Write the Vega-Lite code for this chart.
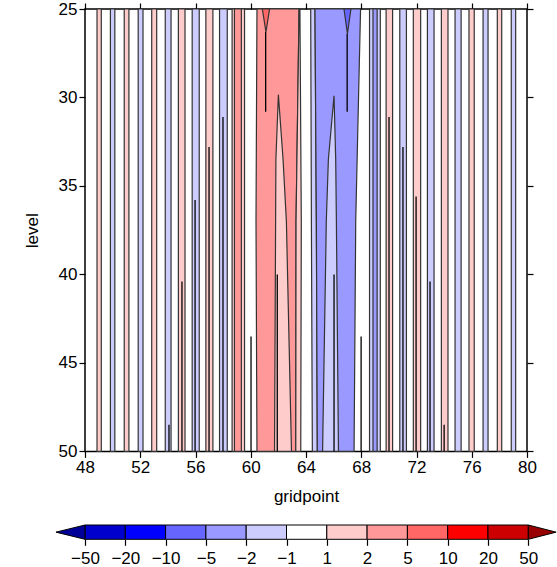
{
  "$schema": "https://vega.github.io/schema/vega-lite/v6.json",
  "padding": {"left": 22, "top": -1, "right": 0, "bottom": 0},
  "background": "white",
  "config": {
    "font": "Liberation Sans",
    "axis": {"labelColor": "black", "titleColor": "black", "tickColor": "black", "grid": false, "domain": false, "labelFontSize": 17, "titleFontSize": 17, "titleFontWeight": "normal", "labelFlush": false, "labelOverlap": false, "tickSize": 6, "tickWidth": 1.2}
  },
  "datasets": {
    "base": [
      {"p": "s49", "lev": 25, "a": 48.87, "b": 49.18, "c": "p1"}, {"p": "s49", "lev": 50, "a": 48.87, "b": 49.18, "c": "p1"},
      {"p": "s50", "lev": 25, "a": 49.84, "b": 50.16, "c": "m1"}, {"p": "s50", "lev": 50, "a": 49.84, "b": 50.16, "c": "m1"},
      {"p": "s51", "lev": 25, "a": 50.84, "b": 51.18, "c": "p1"}, {"p": "s51", "lev": 50, "a": 50.84, "b": 51.18, "c": "p1"},
      {"p": "s52", "lev": 25, "a": 51.85, "b": 52.2, "c": "m1"}, {"p": "s52", "lev": 50, "a": 51.85, "b": 52.2, "c": "m1"},
      {"p": "s53", "lev": 25, "a": 52.83, "b": 53.19, "c": "p1"}, {"p": "s53", "lev": 50, "a": 52.83, "b": 53.19, "c": "p1"},
      {"p": "s54", "lev": 25, "a": 53.81, "b": 54.23, "c": "m1"}, {"p": "s54", "lev": 50, "a": 53.81, "b": 54.23, "c": "m1"},
      {"p": "s55", "lev": 25, "a": 54.76, "b": 55.24, "c": "p1"}, {"p": "s55", "lev": 50, "a": 54.76, "b": 55.24, "c": "p1"},
      {"p": "s56", "lev": 25, "a": 55.76, "b": 56.27, "c": "m1"}, {"p": "s56", "lev": 50, "a": 55.76, "b": 56.27, "c": "m1"},
      {"p": "s57", "lev": 25, "a": 56.75, "b": 57.26, "c": "p1"}, {"p": "s57", "lev": 50, "a": 56.75, "b": 57.26, "c": "p1"},
      {"p": "s58", "lev": 25, "a": 57.74, "b": 58.3, "c": "m1"}, {"p": "s58", "lev": 50, "a": 57.74, "b": 58.3, "c": "m1"},
      {"p": "s59", "lev": 25, "a": 58.65, "b": 59.55, "c": "p1"}, {"p": "s59", "lev": 50, "a": 58.65, "b": 59.55, "c": "p1"},
      {"p": "rb", "lev": 25, "a": 60.45, "b": 63.5, "c": "p2"}, {"p": "rb", "lev": 37, "a": 60.38, "b": 63.28, "c": "p2"}, {"p": "rb", "lev": 50, "a": 60.45, "b": 63.26, "c": "p2"},
      {"p": "rf", "lev": 25, "a": 63.5, "b": 63.56, "c": "p1"}, {"p": "rf", "lev": 37, "a": 63.28, "b": 63.66, "c": "p1"}, {"p": "rf", "lev": 50, "a": 63.26, "b": 63.62, "c": "p1"},
      {"p": "bf", "lev": 25, "a": 64.34, "b": 64.65, "c": "m1"}, {"p": "bf", "lev": 37, "a": 64.39, "b": 64.75, "c": "m1"}, {"p": "bf", "lev": 50, "a": 64.46, "b": 64.82, "c": "m1"},
      {"p": "bb", "lev": 25, "a": 64.65, "b": 67.95, "c": "m2"}, {"p": "bb", "lev": 37, "a": 64.75, "b": 67.6, "c": "m2"}, {"p": "bb", "lev": 50, "a": 64.82, "b": 67.48, "c": "m2"},
      {"p": "s69", "lev": 25, "a": 68.6, "b": 69.38, "c": "m1"}, {"p": "s69", "lev": 50, "a": 68.6, "b": 69.38, "c": "m1"},
      {"p": "s70", "lev": 25, "a": 69.8, "b": 70.27, "c": "p1"}, {"p": "s70", "lev": 50, "a": 69.8, "b": 70.27, "c": "p1"},
      {"p": "s71", "lev": 25, "a": 70.79, "b": 71.27, "c": "m1"}, {"p": "s71", "lev": 50, "a": 70.79, "b": 71.27, "c": "m1"},
      {"p": "s72", "lev": 25, "a": 71.77, "b": 72.3, "c": "p1"}, {"p": "s72", "lev": 50, "a": 71.77, "b": 72.3, "c": "p1"},
      {"p": "s73", "lev": 25, "a": 72.79, "b": 73.27, "c": "m1"}, {"p": "s73", "lev": 50, "a": 72.79, "b": 73.27, "c": "m1"},
      {"p": "s74", "lev": 25, "a": 73.8, "b": 74.28, "c": "p1"}, {"p": "s74", "lev": 50, "a": 73.8, "b": 74.28, "c": "p1"},
      {"p": "s75", "lev": 25, "a": 74.79, "b": 75.23, "c": "m1"}, {"p": "s75", "lev": 50, "a": 74.79, "b": 75.23, "c": "m1"},
      {"p": "s76", "lev": 25, "a": 75.8, "b": 76.18, "c": "p1"}, {"p": "s76", "lev": 50, "a": 75.8, "b": 76.18, "c": "p1"},
      {"p": "s77", "lev": 25, "a": 76.82, "b": 77.18, "c": "m1"}, {"p": "s77", "lev": 50, "a": 76.82, "b": 77.18, "c": "m1"},
      {"p": "s78", "lev": 25, "a": 77.85, "b": 78.17, "c": "p1"}, {"p": "s78", "lev": 50, "a": 77.85, "b": 78.17, "c": "p1"},
      {"p": "s79", "lev": 25, "a": 78.86, "b": 79.18, "c": "m1"}, {"p": "s79", "lev": 50, "a": 78.86, "b": 79.18, "c": "m1"}
    ],
    "over": [
      {"p": "c59", "lev": 25, "a": 58.82, "b": 59.32, "c": "p2"}, {"p": "c59", "lev": 50, "a": 58.82, "b": 59.32, "c": "p2"},
      {"p": "c69", "lev": 25, "a": 68.85, "b": 69.15, "c": "m2"}, {"p": "c69", "lev": 50, "a": 68.85, "b": 69.15, "c": "m2"},
      {"p": "rw", "lev": 29.84, "a": 62.0, "b": 62.0, "c": "p1"}, {"p": "rw", "lev": 33.5, "a": 61.82, "b": 62.34, "c": "p1"}, {"p": "rw", "lev": 37, "a": 61.8, "b": 62.58, "c": "p1"}, {"p": "rw", "lev": 50, "a": 61.72, "b": 62.95, "c": "p1"},
      {"p": "bw", "lev": 29.9, "a": 66.03, "b": 66.03, "c": "m1"}, {"p": "bw", "lev": 33.5, "a": 65.62, "b": 66.15, "c": "m1"}, {"p": "bw", "lev": 37, "a": 65.47, "b": 66.2, "c": "m1"}, {"p": "bw", "lev": 50, "a": 65.2, "b": 66.35, "c": "m1"},
      {"p": "rt", "lev": 25, "a": 60.84, "b": 61.36, "c": "p3"}, {"p": "rt", "lev": 26.3, "a": 61.1, "b": 61.1, "c": "p3"},
      {"p": "bt", "lev": 25, "a": 66.75, "b": 67.25, "c": "m3"}, {"p": "bt", "lev": 26.4, "a": 67.0, "b": 67.0, "c": "m3"}
    ],
    "spikes": [
      {"g": 54.08, "l0": 48.5, "l1": 50}, {"g": 55.02, "l0": 40.4, "l1": 50}, {"g": 55.97, "l0": 35.8, "l1": 50},
      {"g": 56.98, "l0": 32.8, "l1": 50}, {"g": 57.99, "l0": 31.1, "l1": 50}, {"g": 60.02, "l0": 43.5, "l1": 50},
      {"g": 61.92, "l0": 40.0, "l1": 50}, {"g": 66.03, "l0": 40.0, "l1": 50}, {"g": 67.99, "l0": 43.5, "l1": 50},
      {"g": 70.01, "l0": 31.1, "l1": 50}, {"g": 71.02, "l0": 32.8, "l1": 50}, {"g": 71.97, "l0": 35.6, "l1": 50},
      {"g": 72.98, "l0": 40.4, "l1": 50}, {"g": 74.0, "l0": 48.5, "l1": 50},
      {"g": 61.08, "l0": 26.3, "l1": 30.8}, {"g": 66.98, "l0": 26.4, "l1": 30.8}
    ],
    "cbox": [
      {"i0": 0, "i1": 1, "c": "m5"}, {"i0": 1, "i1": 2, "c": "m4"}, {"i0": 2, "i1": 3, "c": "m3"},
      {"i0": 3, "i1": 4, "c": "m2"}, {"i0": 4, "i1": 5, "c": "m1"}, {"i0": 5, "i1": 6, "c": "z"},
      {"i0": 6, "i1": 7, "c": "p1"}, {"i0": 7, "i1": 8, "c": "p2"}, {"i0": 8, "i1": 9, "c": "p3"},
      {"i0": 9, "i1": 10, "c": "p4"}, {"i0": 10, "i1": 11, "c": "p5"}
    ],
    "ctri": [
      {"side": "L", "t": -0.72, "y0": 0.5, "y1": 0.5, "c": "m6"}, {"side": "L", "t": 0, "y0": 0, "y1": 1, "c": "m6"},
      {"side": "R", "t": 11, "y0": 0, "y1": 1, "c": "p6"}, {"side": "R", "t": 11.69, "y0": 0.5, "y1": 0.5, "c": "p6"}
    ]
  },
  "spacing": 17,
  "vconcat": [
    {
      "width": 442,
      "height": 442.4,
      "view": {"stroke": "black", "strokeWidth": 1.5},
      "layer": [
        {
          "data": {"name": "base"},
          "mark": {"type": "area", "orient": "horizontal", "stroke": "#333333", "strokeWidth": 1.2, "opacity": 1},
          "encoding": {
            "y": {"field": "lev", "type": "quantitative", "scale": {"domain": [25, 50], "reverse": true, "nice": false, "zero": false},
                  "axis": {"orient": "left", "values": [25, 30, 35, 40, 45, 50], "labelPadding": 2, "title": "level", "titlePadding": 17}},
            "x": {"field": "a", "type": "quantitative", "stack": null, "scale": {"domain": [48, 80], "nice": false, "zero": false},
                  "axis": {"orient": "bottom", "values": [48, 52, 56, 60, 64, 68, 72, 76, 80], "labelPadding": 2, "title": "gridpoint", "titlePadding": 13}},
            "x2": {"field": "b"},
            "detail": {"field": "p"},
            "color": {"field": "c", "type": "nominal", "legend": null,
                      "scale": {"domain": ["m6", "m5", "m4", "m3", "m2", "m1", "z", "p1", "p2", "p3", "p4", "p5", "p6"],
                                "range": ["#000099", "#0000cc", "#0000ff", "#6666ff", "#9999ff", "#ccccff", "#ffffff", "#ffcccc", "#ff9999", "#ff6666", "#ff0000", "#cc0000", "#990000"]}}
          }
        },
        {
          "data": {"name": "over"},
          "mark": {"type": "area", "orient": "horizontal", "stroke": "#333333", "strokeWidth": 1.2, "opacity": 1},
          "encoding": {
            "y": {"field": "lev", "type": "quantitative", "axis": null},
            "x": {"field": "a", "type": "quantitative", "stack": null, "axis": null},
            "x2": {"field": "b"},
            "detail": {"field": "p"},
            "color": {"field": "c", "type": "nominal", "legend": null}
          }
        },
        {
          "data": {"name": "spikes"},
          "mark": {"type": "rule", "color": "black", "strokeWidth": 1.3},
          "encoding": {
            "x": {"field": "g", "type": "quantitative", "axis": {"orient": "top", "values": [48, 52, 56, 60, 64, 68, 72, 76, 80], "labels": false, "title": null}},
            "y": {"field": "l0", "type": "quantitative", "axis": {"orient": "right", "values": [25, 30, 35, 40, 45, 50], "labels": false, "title": null}},
            "y2": {"field": "l1"}
          }
        }
      ],
      "resolve": {"axis": {"x": "independent", "y": "independent"}}
    },
    {
      "width": 443.3,
      "height": 14.3,
      "view": {"stroke": null},
      "layer": [
        {
          "data": {"name": "cbox"},
          "mark": {"type": "rect", "stroke": "black", "strokeWidth": 1},
          "encoding": {
            "x": {"field": "i0", "type": "quantitative", "scale": {"domain": [0, 11], "nice": false, "zero": false},
                  "axis": {"values": [0, 1, 2, 3, 4, 5, 6, 7, 8, 9, 10, 11], "labelExpr": "['−50','−20','−10','−5','−2','−1','1','2','5','10','20','50'][datum.value]", "labelPadding": 5, "title": null}},
            "x2": {"field": "i1"},
            "color": {"field": "c", "type": "nominal", "legend": null,
                      "scale": {"domain": ["m6", "m5", "m4", "m3", "m2", "m1", "z", "p1", "p2", "p3", "p4", "p5", "p6"],
                                "range": ["#000099", "#0000cc", "#0000ff", "#6666ff", "#9999ff", "#ccccff", "#ffffff", "#ffcccc", "#ff9999", "#ff6666", "#ff0000", "#cc0000", "#990000"]}}
          }
        },
        {
          "data": {"name": "ctri"},
          "mark": {"type": "area", "orient": "vertical", "stroke": "black", "strokeWidth": 1, "opacity": 1},
          "encoding": {
            "x": {"field": "t", "type": "quantitative"},
            "y": {"field": "y0", "type": "quantitative", "stack": null, "scale": {"domain": [0, 1], "nice": false, "zero": false}, "axis": null},
            "y2": {"field": "y1"},
            "detail": {"field": "side"},
            "color": {"field": "c", "type": "nominal", "legend": null}
          }
        }
      ]
    }
  ]
}
